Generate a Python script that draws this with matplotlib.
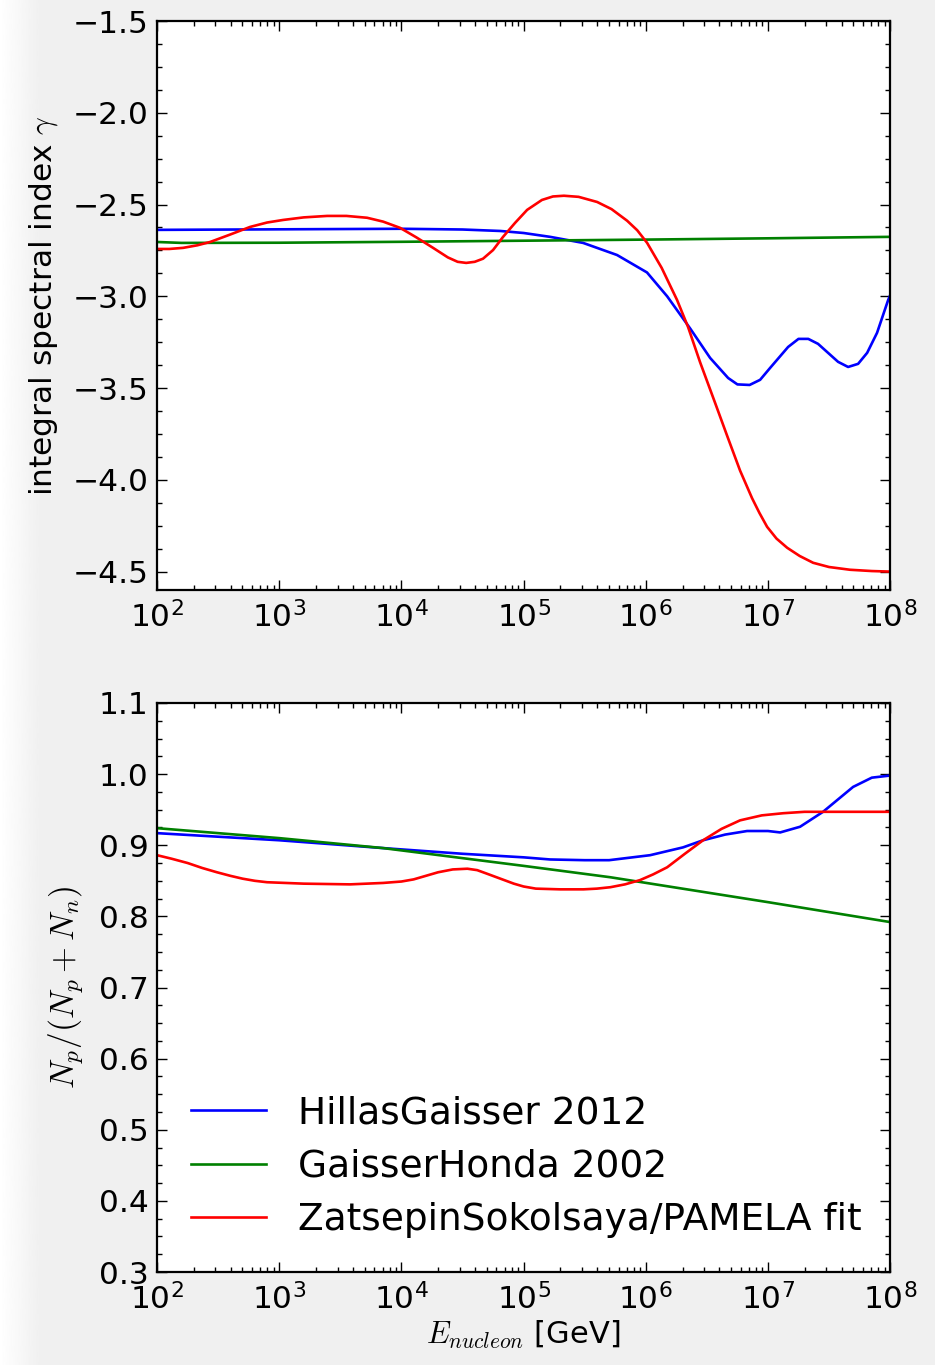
import numpy as np
import matplotlib
matplotlib.use('Agg')
import matplotlib.pyplot as plt
from matplotlib.ticker import MultipleLocator, LogLocator, NullFormatter

plt.rcParams['mathtext.fontset'] = 'cm'
plt.rcParams['font.family'] = 'DejaVu Sans'

# log10(E/GeV) and values
# top panel: integral spectral index
hg_top_logE = [2.0, 3.0, 4.0, 4.5, 4.81, 5.0, 5.217, 5.487, 5.765, 6.01, 6.175, 6.363,
               6.527, 6.674, 6.75, 6.85, 6.936, 7.018, 7.165, 7.25, 7.33, 7.41, 7.574,
               7.656, 7.738, 7.812, 7.893, 7.984, 8.0]
hg_top = [-2.638, -2.635, -2.632, -2.636, -2.644, -2.655, -2.676, -2.709, -2.775, -2.87,
          -3.0, -3.175, -3.336, -3.445, -3.48, -3.483, -3.455, -3.39, -3.276, -3.232,
          -3.232, -3.259, -3.357, -3.385, -3.368, -3.308, -3.199, -3.02, -2.995]

gh_top_logE = [2.0, 2.2, 3.0, 4.0, 5.0, 6.0, 7.0, 8.0]
gh_top = [-2.704, -2.709, -2.708, -2.703, -2.697, -2.691, -2.684, -2.676]

zs_top_logE = [2.0, 2.1, 2.213, 2.33, 2.434, 2.6, 2.761, 2.9, 3.031, 3.2, 3.392, 3.55,
               3.719, 3.85, 3.989, 4.12, 4.259, 4.38, 4.46, 4.53, 4.6, 4.668, 4.75, 4.832,
               4.93, 5.029, 5.15, 5.24, 5.33, 5.45, 5.602, 5.72, 5.847, 5.93, 6.011, 6.13,
               6.256, 6.346, 6.445, 6.567, 6.666, 6.772, 6.87, 6.93, 6.993, 7.07, 7.157,
               7.26, 7.37, 7.5, 7.672, 7.85, 8.0]
zs_top = [-2.742, -2.742, -2.736, -2.722, -2.704, -2.663, -2.622, -2.598, -2.584, -2.570,
          -2.562, -2.562, -2.572, -2.593, -2.627, -2.678, -2.736, -2.788, -2.812, -2.818,
          -2.812, -2.795, -2.748, -2.676, -2.600, -2.529, -2.475, -2.456, -2.452, -2.458,
          -2.486, -2.525, -2.588, -2.640, -2.709, -2.845, -3.020, -3.167, -3.360, -3.580,
          -3.760, -3.950, -4.100, -4.180, -4.256, -4.320, -4.370, -4.415, -4.452, -4.475,
          -4.490, -4.497, -4.500]

# bottom panel: proton fraction
hg_bot_logE = [2.0, 2.5, 3.0, 3.85, 4.5, 5.0, 5.217, 5.5, 5.7, 6.035, 6.305, 6.469, 6.65,
               6.829, 7.0, 7.10, 7.263, 7.451, 7.697, 7.85, 8.0]
hg_bot = [0.917, 0.912, 0.907, 0.896, 0.888, 0.883, 0.880, 0.879, 0.879, 0.886, 0.897,
          0.907, 0.915, 0.920, 0.920, 0.918, 0.926, 0.947, 0.982, 0.995, 0.998]

gh_bot_logE = [2.0, 3.0, 3.85, 5.0, 5.71, 7.0, 8.0]
gh_bot = [0.924, 0.910, 0.896, 0.871, 0.855, 0.820, 0.792]

zs_bot_logE = [2.0, 2.12, 2.25, 2.37, 2.49, 2.6, 2.7, 2.8, 2.9, 3.2, 3.58, 3.85, 4.0, 4.1,
               4.2, 4.3, 4.42, 4.54, 4.62, 4.7, 4.81, 4.92, 5.0, 5.1, 5.3, 5.49, 5.6, 5.71,
               5.83, 5.953, 6.06, 6.175, 6.32, 6.469, 6.62, 6.772, 6.95, 7.124, 7.3, 7.451,
               8.0]
zs_bot = [0.886, 0.881, 0.875, 0.868, 0.862, 0.857, 0.853, 0.850, 0.848, 0.846, 0.845,
          0.847, 0.849, 0.852, 0.857, 0.862, 0.866, 0.867, 0.865, 0.860, 0.853, 0.846,
          0.842, 0.839, 0.838, 0.838, 0.839, 0.841, 0.845, 0.851, 0.859, 0.869, 0.888,
          0.907, 0.923, 0.935, 0.942, 0.945, 0.947, 0.947, 0.947]

labels = ['HillasGaisser 2012', 'GaisserHonda 2002', 'ZatsepinSokolsaya/PAMELA fit']
colors = ['b', 'g', 'r']

fig = plt.figure(figsize=(9.35, 13.65), dpi=100, facecolor='#f0f0f0')

# soft white edge on the left of the canvas
edge = fig.add_axes([0, 0, 40 / 935, 1])
edge.imshow(np.linspace(1.0, 0.941, 60)[None, :], cmap='gray', vmin=0, vmax=1,
            aspect='auto', extent=[0, 1, 0, 1])
edge.axis('off')

ax1 = fig.add_axes([0.168, 0.5678, 0.784, 0.4168])
ax2 = fig.add_axes([0.168, 0.0681, 0.784, 0.4169])

lw = 1.9
ax1.plot(10 ** np.array(hg_top_logE), hg_top, color=colors[0], lw=lw)
ax1.plot(10 ** np.array(gh_top_logE), gh_top, color=colors[1], lw=lw)
ax1.plot(10 ** np.array(zs_top_logE), zs_top, color=colors[2], lw=lw)

ax2.plot(10 ** np.array(hg_bot_logE), hg_bot, color=colors[0], lw=lw, label=labels[0])
ax2.plot(10 ** np.array(gh_bot_logE), gh_bot, color=colors[1], lw=lw, label=labels[1])
ax2.plot(10 ** np.array(zs_bot_logE), zs_bot, color=colors[2], lw=lw, label=labels[2])

ax1.set_ylim(-4.6, -1.5)
ax1.yaxis.set_major_locator(MultipleLocator(0.5))
ax1.yaxis.set_minor_locator(MultipleLocator(0.125))
ax2.set_ylim(0.3, 1.1)
ax2.yaxis.set_major_locator(MultipleLocator(0.1))
ax2.yaxis.set_minor_locator(MultipleLocator(0.025))

for ax in (ax1, ax2):
    ax.set_xscale('log')
    ax.set_xlim(1e2, 1e8)
    ax.xaxis.set_major_locator(LogLocator(base=10, numticks=10))
    ax.xaxis.set_minor_locator(LogLocator(base=10, subs=np.arange(2, 10), numticks=20))
    ax.xaxis.set_minor_formatter(NullFormatter())
    ax.set_facecolor('white')
    ax.tick_params(which='both', direction='in', top=True, right=True, labelsize=22.5)
    ax.tick_params(which='major', length=7, width=1)
    ax.tick_params(which='minor', length=3.5, width=1)
    ax.tick_params(axis='y', pad=6)
    ax.tick_params(axis='x', pad=8)
    for s in ax.spines.values():
        s.set_linewidth(1.6)

ax1.set_ylabel(r'integral spectral index $\gamma$', fontsize=22.5, labelpad=9)
ax2.set_ylabel(r'$N_p/(N_p+N_n)$', fontsize=24, labelpad=10)
ax2.set_xlabel(r'$E_{nucleon}$ [GeV]', fontsize=22, labelpad=2)

ax2.legend(loc='lower left', frameon=False, fontsize=27, handlelength=2.0,
           handletextpad=0.85, labelspacing=0.47)

fig.savefig('out.png', dpi=100, facecolor=fig.get_facecolor())
